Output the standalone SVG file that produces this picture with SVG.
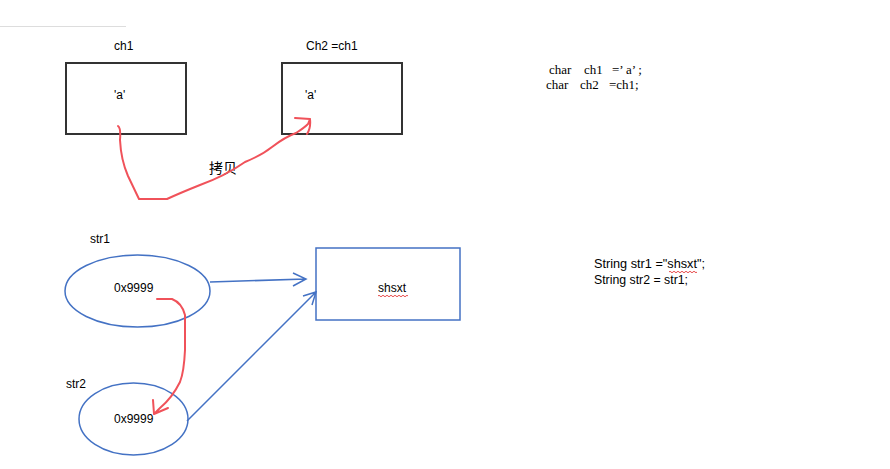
<svg xmlns="http://www.w3.org/2000/svg" width="890" height="469" viewBox="0 0 890 469">
<style>
.box{fill:#fff;stroke:#333;stroke-width:2}
.blue{fill:#fff;stroke:#4472c4;stroke-width:1.5}
.bl{fill:none;stroke:#4472c4;stroke-width:1.5}
.red{fill:none;stroke:#f0525a;stroke-width:2;stroke-linejoin:round;stroke-linecap:round}
.t{font-family:"Liberation Sans","Noto Sans CJK SC",sans-serif;font-size:12px;fill:#000}
.c{font-family:"Liberation Sans","Noto Sans CJK SC",sans-serif;font-size:13px;fill:#000}
.s{font-family:"Liberation Serif","Noto Sans CJK SC",serif;font-size:13px;fill:#000}
</style>
<rect width="890" height="469" fill="#fff"/>
<line x1="0" y1="26.5" x2="126" y2="26.5" stroke="#ddd" stroke-width="1"/>
<g id="ch1">
<text class="t" x="114" y="50">ch1</text>
<rect class="box" x="66" y="63" width="120" height="71"/>
<text class="t" x="114" y="99">'a'</text>
</g>
<g id="ch2">
<text class="t" x="306" y="50">Ch2 =ch1</text>
<rect class="box" x="282" y="63" width="120" height="71"/>
<text class="t" x="305" y="99">'a'</text>
</g>
<g id="code1">
<text class="s" y="74"><tspan x="549">char</tspan> <tspan x="584">ch1</tspan> <tspan x="612">=’ a’ ;</tspan></text>
<text class="s" y="89"><tspan x="546">char</tspan> <tspan x="580">ch2</tspan> <tspan x="609">=ch1;</tspan></text>
</g>
<g id="str1">
<text class="t" x="90" y="243">str1</text>
<ellipse class="blue" cx="137.5" cy="291" rx="72.5" ry="36"/>
<text class="t" x="114" y="292">0x9999</text>
</g>
<g id="str2">
<text class="t" x="66" y="388">str2</text>
<ellipse class="blue" cx="133.5" cy="419" rx="54.5" ry="36"/>
<text class="t" x="114" y="423">0x9999</text>
</g>
<g id="shsxt">
<rect class="blue" x="316" y="248" width="144" height="72"/>
<text class="t" x="378" y="292">shsxt</text>
<path d="M378 296 q1 -1.5 2 0 t2 0 t2 0 t2 0 t2 0 t2 0 t2 0 t2 0 t2 0 t2 0 t2 0 t2 0 t2 0 t2 0 t2 0" fill="none" stroke="#e02020" stroke-width="0.8"/>
</g>
<g id="code2">
<text class="c" x="594" y="268" textLength="111" lengthAdjust="spacingAndGlyphs">String str1 ="shsxt";</text>
<path d="M669 272 q1 -1.5 2 0 t2 0 t2 0 t2 0 t2 0 t2 0 t2 0 t2 0 t2 0 t2 0 t2 0 t2 0 t2 0 t2 0" fill="none" stroke="#e02020" stroke-width="0.8"/>
<text class="c" x="594" y="284" textLength="94" lengthAdjust="spacingAndGlyphs">String str2 = str1;</text>
</g>
<g id="label">
<text x="209" y="173" style="font-family:'Noto Sans CJK SC',sans-serif;font-size:14px" textLength="28" lengthAdjust="spacingAndGlyphs">拷贝</text>
</g>
<g id="connectors">
<path class="red" d="M118 126 Q121 128 120 140 Q121 160 128 176 L139 199 L167 199 Q180 193 200 185 Q225 176 245 162 Q262 155 272 147 Q285 137 296 133 Q304 128 308 124 L310 119 L295 118 M310 119 Q311 128 307 134"/>
<path class="red" d="M157 299 L172 299 Q182 303 185 315 L185 350 Q184 372 180 382 Q172 398 160 408 L154 414 M154 414 L153 400 M154 414 L168 408"/>
<path class="bl" d="M210 282 L306 279 M293 273 L306 279 L293 286"/>
<path class="bl" d="M187 421 L316 292 M303 296 L316 292 L312 305"/>
</g>
</svg>
